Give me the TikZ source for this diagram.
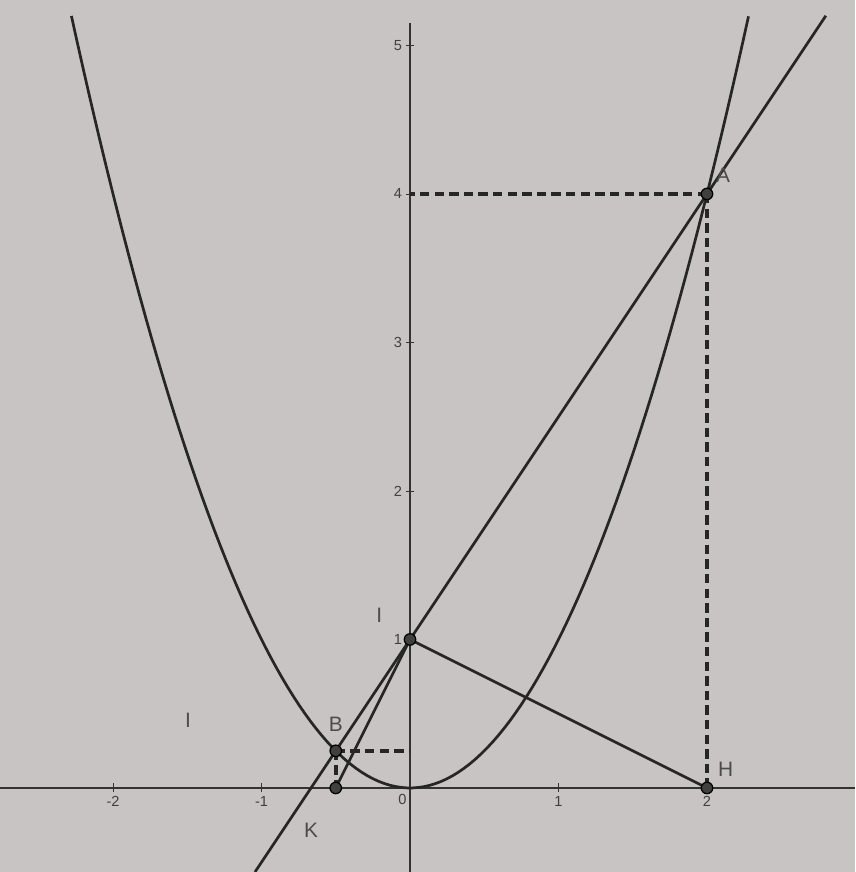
\documentclass[tikz,border=0pt]{standalone}
\usepackage{fontspec}
\setmainfont{Liberation Sans}
\usetikzlibrary{positioning}
\definecolor{paper}{RGB}{200,196,195}

\begin{document}
\begin{tikzpicture}
            [x=2.5cm,y=2.5cm,
             curve/.style={line width=1.3pt,black!85},
             guide/.style={line width=1.7pt,black!85,dash pattern=on 4.5pt off 2.5pt},
             dot/.style={circle,fill=black!75,draw=black,line width=0.6pt,inner sep=0pt,minimum size=5.5pt},
             ticklbl/.style={font=\scriptsize,text=black!75,inner sep=1.5pt},
             ptlbl/.style={text=black!70,inner sep=1pt}]
            
            \fill[paper] (-2.761,-0.566) rectangle (2.997,5.306);
            \useasboundingbox (-2.761,-0.566) rectangle (2.997,5.306);
            
            \draw[line width=0.8pt,black!80] (-2.761,0) -- (2.997,0);
            \draw[line width=0.8pt,black!80] (0,-0.566) -- (0,5.15);
            \foreach \x in {-2,-1,1,2} {
                \draw[black!80] (\x,0.03) -- ++ (0,-0.06) node[below,ticklbl] {\x};
            }
            \node[ticklbl,below left] at (0,-0.02) {0};
            \foreach \y in {1,...,5} {
                \draw[black!80] (0.03,\y) -- ++ (-0.06,0) node[left,ticklbl] {\y};
            }
            
            % points
            \coordinate (A) at (2,4);
            \coordinate (B) at (-0.5,0.25);
            \coordinate (I) at (0,1);
            \coordinate (H) at (2,0);
            \coordinate (P) at (-0.5,0);
            \coordinate (K) at (-2/3,0);
            \coordinate (Ay) at (0,4);
            \coordinate (By) at (0,0.25);
            \coordinate (lo) at (-1.044,-0.566);
            \coordinate (hi) at (2.8,5.2);
            
            \draw[curve,domain=-2.28:2.28,samples=120] plot (\x,{\x*\x});
            \draw[curve] (lo) -- (hi);
            \draw[curve] (P) -- (I);
            \draw[curve] (I) -- (H);
            
            \draw[guide] (A) -- (Ay);
            \draw[guide] (A) -- (H);
            \draw[guide] (B) -- (By);
            \draw[guide] (B) -- (P);
            
            \foreach \p in {A,B,I,H,P} {
                \node[dot] (d\p) at (\p) {};
            }
            
            \node[ptlbl,above right=2pt and 1pt of dA] (lblA) {A};
            \node[ptlbl,above=5pt of dB] (lblB) {B};
            \node[ptlbl,above left=5pt and 10pt of dI] (lblI) {I};
            \node[ptlbl,above right=2pt and 2pt of dH] (lblH) {H};
            \node[ptlbl,below=0.55cm of K] (lblK) {K};
            \node[ptlbl] (lblI2) at (-1.495,0.458) {I};
        \end{tikzpicture}
\end{document}
